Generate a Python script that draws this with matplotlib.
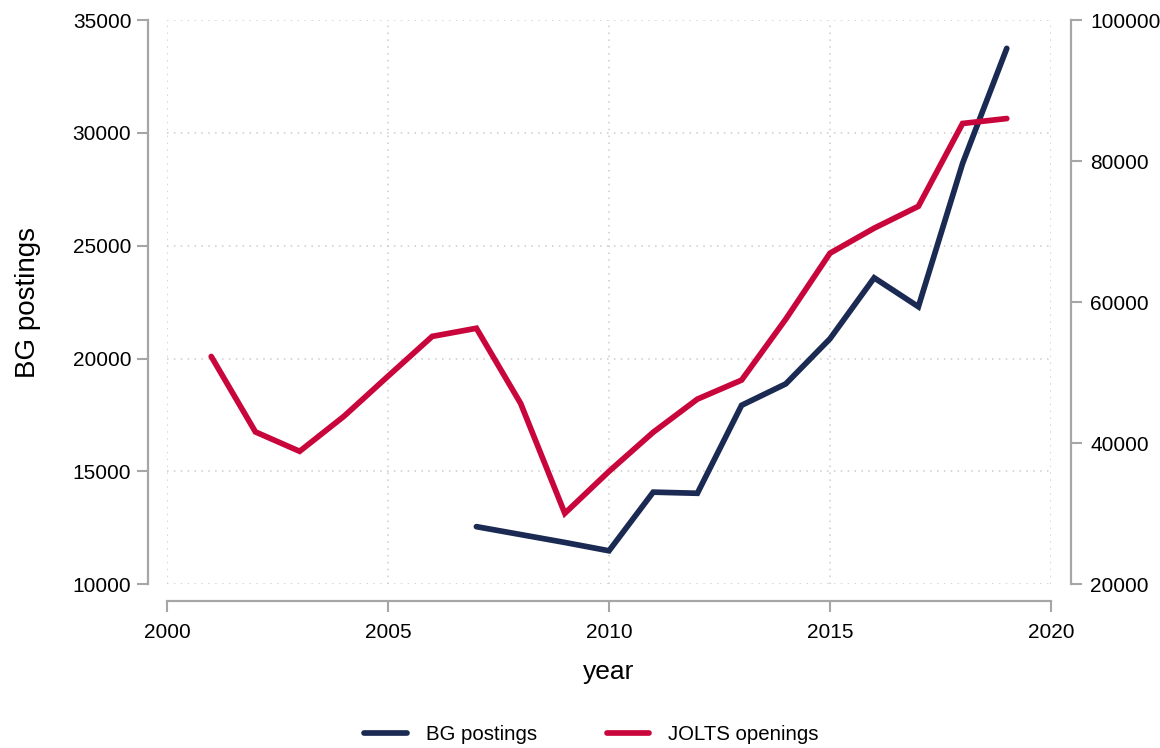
import matplotlib
matplotlib.use("Agg")
from matplotlib import pyplot as plt

plt.rcParams['font.family'] = ['Liberation Sans', 'DejaVu Sans']

# BG postings (left axis)
bg_years = [2007, 2008, 2009, 2010, 2011, 2012, 2013, 2014, 2015, 2016, 2017, 2018, 2019]
bg_values = [12550, 12200, 11850, 11480, 14080, 14030, 17930, 18880, 20880, 23580, 22300, 28650, 33750]

# JOLTS openings (right axis)
jolts_years = list(range(2001, 2020))
jolts_values = [52300, 41600, 38850, 43800, 49500, 55150, 56300, 45650, 30050, 36000,
                41550, 46250, 48950, 57600, 66950, 70500, 73600, 85350, 86050]

x_ticks = [2000, 2005, 2010, 2015, 2020]
left_ticks = [10000, 15000, 20000, 25000, 30000, 35000]
right_ticks = [20000, 40000, 60000, 80000, 100000]

navy = '#1b2a52'
red = '#c8063c'
spine_grey = '#a6a6a6'

fig = plt.figure(figsize=(11.6, 7.48), dpi=100)
ax = fig.add_axes([0.144, 0.219, 0.762, 0.754])
ax2 = ax.twinx()

l1, = ax.plot(bg_years, bg_values, color=navy, lw=4.1, label='BG postings',
              solid_capstyle='round', solid_joinstyle='miter')
l2, = ax2.plot(jolts_years, jolts_values, color=red, lw=4.1, label='JOLTS openings',
               solid_capstyle='round', solid_joinstyle='miter')

ax.set_xlim(2000, 2020)
ax.set_ylim(10000, 35000)
ax2.set_ylim(20000, 100000)
ax.set_xticks(x_ticks)
ax.set_yticks(left_ticks)
ax2.set_yticks(right_ticks)

ax.grid(True, color='#cccccc', linestyle=(0, (1, 3.5)), linewidth=1.1)
ax.set_axisbelow(True)

for a in (ax, ax2):
    for s in a.spines.values():
        s.set_visible(False)
    a.tick_params(colors=spine_grey, labelcolor='black', labelsize=15,
                  length=8, width=1.5, pad=4)
ax.tick_params(axis='x', pad=7.5)
ax2.tick_params(axis='y', pad=6)

ax.spines['left'].set_visible(True)
ax.spines['left'].set_position(('outward', 13.7))
ax.spines['bottom'].set_visible(True)
ax.spines['bottom'].set_position(('outward', 12.2))
ax2.spines['right'].set_visible(True)
ax2.spines['right'].set_position(('outward', 14.4))
for s in (ax.spines['left'], ax.spines['bottom'], ax2.spines['right']):
    s.set_color(spine_grey)
    s.set_linewidth(1.6)

ax.set_ylabel('BG postings', fontsize=20, labelpad=23)
ax.set_xlabel('year', fontsize=19, labelpad=13)

fig.legend(handles=[l1, l2], loc='center', bbox_to_anchor=(0.51, 0.018),
           ncol=2, frameon=False, fontsize=14.7, handlelength=2.1,
           columnspacing=3.4, handletextpad=0.93)

fig.savefig('out.png', dpi=100, facecolor='white')
